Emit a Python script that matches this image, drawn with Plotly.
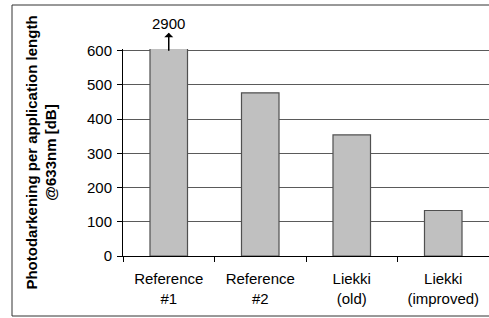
import plotly.graph_objects as go

categories = ["Reference<br>#1", "Reference<br>#2", "Liekki<br>(old)", "Liekki<br>(improved)"]
values = [2900, 477, 354, 133]
y_ticks = [0, 100, 200, 300, 400, 500, 600]
off_scale_label = "2900"
y_title = "Photodarkening per application length<br>@633nm [dB]"

W, H = 489, 318
ml, mr, mt, mb = 123, 0, 49, 62
pw, ph = W - ml - mr, H - mt - mb

FONT = "Liberation Sans, Arial, sans-serif"

fig = go.Figure(go.Bar(
    x=categories, y=values,
    marker=dict(color="#c0c0c0", line=dict(color="#505050", width=1.2)),
    width=0.41,
    cliponaxis=True,
))

fig.add_annotation(
    x=categories[0], y=600, xref="x", yref="y",
    text=off_scale_label, showarrow=True, arrowside="start",
    arrowhead=2, arrowsize=1, arrowwidth=1.5, arrowcolor="black",
    ax=0, ay=-27, borderpad=0, font=dict(family=FONT, size=15, color="black"),
)

# outer frame
def px2paper_x(px):
    return (px - ml) / pw

def px2paper_y(py):
    return (H - mb - py) / ph

fig.add_shape(type="rect", xref="paper", yref="paper",
              x0=px2paper_x(12), x1=px2paper_x(495),
              y0=px2paper_y(316), y1=px2paper_y(5),
              line=dict(color="#333333", width=1), layer="below")

fig.update_layout(
    width=W, height=H,
    margin=dict(l=ml, r=mr, t=mt, b=mb, autoexpand=False),
    paper_bgcolor="white", plot_bgcolor="white",
    showlegend=False,
    font=dict(family=FONT, size=15, color="black"),
    xaxis=dict(
        showline=True, linecolor="black", linewidth=1,
        ticks="outside", ticklen=5, tickcolor="black", tickson="boundaries",
        showgrid=False, tickfont=dict(size=15), ticklabelstandoff=9,
    ),
    yaxis=dict(
        range=[0, 605], tickvals=y_ticks,
        showline=True, linecolor="black", linewidth=1,
        ticks="outside", ticklen=5, tickcolor="black",
        showgrid=True, gridcolor="#5a5a5a", gridwidth=1,
        zeroline=False, tickfont=dict(size=15),
        ticklabelstandoff=2,
        title=dict(text=y_title, font=dict(size=15, family=FONT, weight="bold"), standoff=26),
    ),
)

fig.write_html("out.html", config={"displayModeBar": False},
               post_script="document.body.style.margin='0px';document.body.style.overflow='hidden';")
